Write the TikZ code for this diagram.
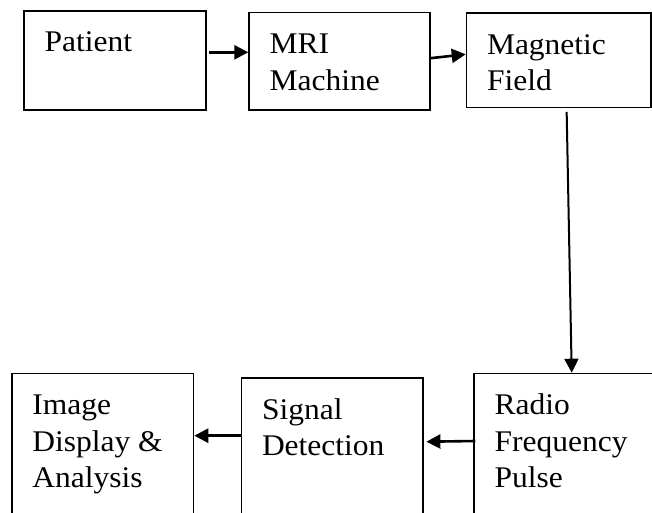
\documentclass[tikz,border=0pt]{standalone}
\usepackage{fontspec}
\setmainfont{Liberation Serif}[FakeStretch=1.05]
\usetikzlibrary{arrows.meta}

\newcommand{\boxtext}[3]{\parbox[c][#2][t]{#1}{\raggedright\rule{0pt}{41pt}#3}}

\begin{document}
\begin{tikzpicture}[x=1pt,y=-1pt,
    blk/.style={draw,rectangle,line width=1.6pt,anchor=north west,
      inner xsep=20.5pt,inner ysep=0pt,font=\fontsize{30}{36.7}\selectfont},
    arr/.style={line width=2.6pt,-{Triangle[length=14pt,width=14pt]}}]
      \useasboundingbox (0,0) rectangle (652,513);
      \clip (0,0) rectangle (652,513);

      % top row
      \node[blk] (patient) at (23.3,10){\boxtext{140.7pt}{99pt}{Patient}};
      \node[blk] (mri) at (248.3,11.7){\boxtext{140pt}{97.3pt}{MRI\\Machine}};
      \node[blk] (field) at (465.7,12.3){\boxtext{143.3pt}{94.4pt}{Magnetic\\Field}};

      % bottom row
      \node[blk] (image) at (11,372.7){\boxtext{140.7pt}{160pt}{Image\\Display \&\\Analysis}};
      \node[blk] (signal) at (240.7,377.3){\boxtext{140.6pt}{160pt}{Signal\\Detection}};
      \node[blk] (pulse) at (473.3,372.7){\boxtext{150pt}{160pt}{Radio\\Frequency\\Pulse}};

      \draw[arr] ([shift={(2pt,8pt)}]patient.east) -- ([yshift=8pt]patient.east -| mri.west);
      \draw[arr] ([yshift=3pt]mri.east) -- ([yshift=6pt]field.west);
      \draw[arr,line width=2pt] ([shift={(8pt,-3.5pt)}]field.south) -- ([xshift=98.4pt]pulse.north west);
      \draw[arr] ([shift={(2pt,-68.3pt)}]pulse.north west) -- ([shift={(2.5pt,-64.4pt)}]signal.north east);
      \draw[arr] ([yshift=-58.4pt]signal.north west) -- ([yshift=-58.4pt]signal.north west -| image.east);
    \end{tikzpicture}
\end{document}
